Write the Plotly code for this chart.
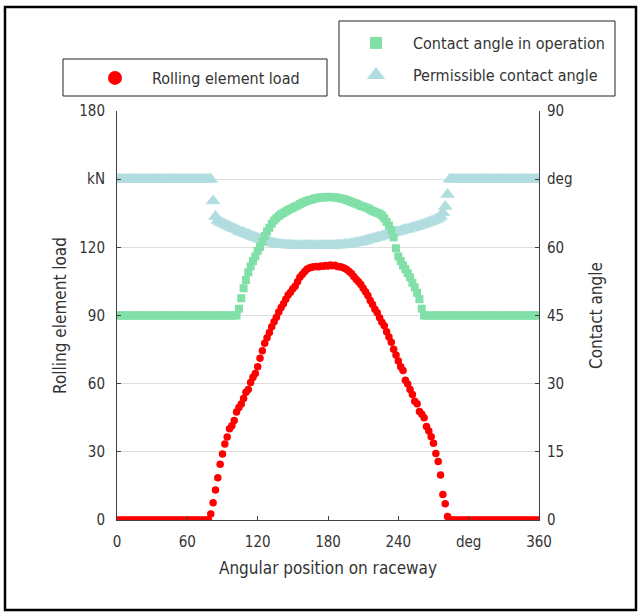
import plotly.graph_objects as go

# Angular position on the raceway, sampled every 2 degrees
position_deg = list(range(0, 361, 2))

# Rolling element load [kN]
rolling_load = [
    0, 0, 0, 0, 0, 0, 0, 0, 0, 0,
    0, 0, 0, 0, 0, 0, 0, 0, 0, 0,
    0, 0, 0, 0, 0, 0, 0, 0, 0, 0,
    0, 0, 0, 0, 0, 0, 0, 0, 0, 0,
    2.6, 7.6, 13.2, 18.6, 24.5, 29.0, 33.5, 36.5, 40.2, 41.5,
    43.8, 47.5, 49.5, 51.0, 53.5, 56.2, 57.4, 60.5, 62.8, 64.5,
    67.5, 71.2, 74.5, 77.8, 80.2, 82.5, 85.0, 87.3, 89.2, 91.5,
    93.5, 95.2, 97.2, 99.0, 100.2, 101.8, 102.9, 104.8, 106.8, 108.0,
    109.2, 110.4, 110.9, 111.2, 111.5, 111.6, 111.4, 111.8, 111.7, 112.0,
    111.8, 112.2, 111.9, 112.1, 111.6, 111.5, 111.2, 110.8, 110.2, 109.4,
    108.5, 107.2, 106.0, 104.8, 103.6, 102.0, 100.4, 98.8, 96.6, 94.8,
    92.8, 91.2, 89.0, 87.0, 85.5, 82.8, 80.5, 78.2, 75.2, 72.6,
    70.0, 67.5, 65.8, 61.5, 59.8, 57.4, 55.2, 52.3, 51.2, 47.8,
    46.5, 45.0, 41.2, 39.2, 36.6, 33.8, 29.3, 25.8, 19.8, 11.2,
    7.2, 1.5,
    0, 0, 0, 0, 0, 0, 0, 0, 0, 0,
    0, 0, 0, 0, 0, 0, 0, 0, 0, 0,
    0, 0, 0, 0, 0, 0, 0, 0, 0, 0,
    0, 0, 0, 0, 0, 0, 0, 0, 0,
]

# Contact angle in operation [deg]
contact_angle_op = [
    45, 45, 45, 45, 45, 45, 45, 45, 45, 45,
    45, 45, 45, 45, 45, 45, 45, 45, 45, 45,
    45, 45, 45, 45, 45, 45, 45, 45, 45, 45,
    45, 45, 45, 45, 45, 45, 45, 45, 45, 45,
    45, 45, 45, 45, 45, 45, 45, 45, 45, 45,
    45, 45,
    46.5, 48.8, 51.0, 52.8, 54.5, 55.8, 57.0, 58.0, 59.2, 60.1,
    61.3, 62.5, 63.5, 64.3, 65.2, 65.9, 66.4, 66.9, 67.3, 67.6,
    67.9, 68.2, 68.5, 68.7, 69.0, 69.2, 69.5, 69.8, 70.0, 70.2,
    70.4, 70.5, 70.7, 70.8, 70.9, 71.0, 71.0, 71.0, 71.1, 71.1,
    71.0, 71.0, 70.9, 70.8, 70.7, 70.6, 70.4, 70.2, 70.0, 69.8,
    69.6, 69.4, 69.1, 69.0, 68.8, 68.6, 68.3, 68.0, 67.8, 67.6,
    67.4, 67.0, 66.4, 65.6, 64.8, 63.8, 62.2, 59.8, 58.0, 57.0,
    56.0, 55.2, 54.3, 53.4, 52.2, 51.2, 50.0, 48.6, 46.5,
    45, 45, 45, 45, 45, 45, 45, 45, 45, 45,
    45, 45, 45, 45, 45, 45, 45, 45, 45, 45,
    45, 45, 45, 45, 45, 45, 45, 45, 45, 45,
    45, 45, 45, 45, 45, 45, 45, 45, 45, 45,
    45, 45, 45, 45, 45, 45, 45, 45, 45, 45,
]

# Permissible contact angle [deg]
contact_angle_perm = [
    75, 75, 75, 75, 75, 75, 75, 75, 75, 75,
    75, 75, 75, 75, 75, 75, 75, 75, 75, 75,
    75, 75, 75, 75, 75, 75, 75, 75, 75, 75,
    75, 75, 75, 75, 75, 75, 75, 75, 75, 75,
    75,
    70.2, 66.8, 65.9, 65.6, 65.3, 65.1, 64.8, 64.6, 64.3, 64.1,
    63.9, 63.6, 63.4, 63.2, 63.0, 62.8, 62.6, 62.4, 62.2, 62.0,
    61.8, 61.6, 61.4, 61.3, 61.1, 61.0, 60.9, 60.8, 60.7, 60.6,
    60.6, 60.5, 60.5, 60.5, 60.4, 60.4, 60.4, 60.4, 60.4, 60.4,
    60.4, 60.4, 60.4, 60.4, 60.4, 60.4, 60.4, 60.4, 60.4, 60.4,
    60.4, 60.4, 60.4, 60.5, 60.5, 60.5, 60.6, 60.6, 60.7, 60.8,
    60.9, 61.0, 61.1, 61.2, 61.3, 61.5, 61.6, 61.8, 61.9, 62.0,
    62.2, 62.3, 62.5, 62.6, 62.8, 62.9, 63.1, 63.2, 63.4, 63.5,
    63.6, 63.8, 63.9, 64.0, 64.2, 64.3, 64.5, 64.6, 64.8, 64.9,
    65.1, 65.3, 65.5, 65.7, 65.9, 66.1, 66.4, 66.8, 67.6, 69.0,
    71.6,
    75, 75, 75, 75, 75, 75, 75, 75, 75, 75,
    75, 75, 75, 75, 75, 75, 75, 75, 75, 75,
    75, 75, 75, 75, 75, 75, 75, 75, 75, 75,
    75, 75, 75, 75, 75, 75, 75, 75, 75,
]

# Axis ticks
x_tickvals = [0, 60, 120, 180, 240, 300, 360]
x_ticktext = ["0", "60", "120", "180", "240", "deg", "360"]
load_tickvals = [0, 30, 60, 90, 120, 150, 180]
load_ticktext = ["0", "30", "60", "90", "120", "kN", "180"]
angle_tickvals = [0, 15, 30, 45, 60, 75, 90]
angle_ticktext = ["0", "15", "30", "45", "60", "deg", "90"]

RED = "#ff0000"
GREEN = "#80e0a8"
CYAN = "#b2dde0"
AXIS = "#404040"
FONT = "DejaVu Sans Condensed, Liberation Sans, sans-serif"

W, H = 641, 612
ML, MR, MT, MB = 117, 102, 111, 92
PW, PH = W - ML - MR, H - MT - MB


def px(xp):
    return (xp - ML) / PW


def py(yp):
    return (H - MB - yp) / PH


fig = go.Figure()

fig.add_trace(go.Scatter(
    x=position_deg, y=contact_angle_perm, yaxis="y2", mode="markers",
    marker=dict(symbol="triangle-up", size=13, color=CYAN),
    showlegend=False, hoverinfo="skip",
))
fig.add_trace(go.Scatter(
    x=position_deg, y=contact_angle_op, yaxis="y2", mode="markers",
    marker=dict(symbol="square", size=8, color=GREEN),
    showlegend=False, hoverinfo="skip",
))
fig.add_trace(go.Scatter(
    x=position_deg, y=rolling_load, mode="markers",
    marker=dict(symbol="circle", size=7.5, color=RED),
    showlegend=False, hoverinfo="skip",
))

# Legend entries
fig.add_trace(go.Scatter(
    x=[None], y=[None], mode="markers", name="Rolling element load",
    marker=dict(symbol="circle", size=14, color=RED), legend="legend",
))
fig.add_trace(go.Scatter(
    x=[None], y=[None], mode="markers", name="Contact angle in operation",
    marker=dict(symbol="square", size=12, color=GREEN), legend="legend2",
))
fig.add_trace(go.Scatter(
    x=[None], y=[None], mode="markers", name="Permissible contact angle",
    marker=dict(symbol="triangle-up", size=16, color=CYAN), legend="legend3",
))

legend_style = dict(
    bgcolor="rgba(0,0,0,0)", borderwidth=0, itemwidth=64,
    font=dict(family=FONT, size=16, color="#333333"),
    xanchor="left", yanchor="middle",
)

axis_common = dict(
    showline=True, linecolor=AXIS, linewidth=1,
    ticks="inside", ticklen=4, tickcolor=AXIS, tickwidth=1,
    tickfont=dict(family=FONT, size=15, color="#333333"),
    title_font=dict(family=FONT, size=17, color="#333333"),
    zeroline=False,
)

fig.update_layout(
    width=W, height=H,
    margin=dict(l=ML, r=MR, t=MT, b=MB),
    paper_bgcolor="white", plot_bgcolor="white",
    xaxis=dict(
        range=[0, 360], tickvals=x_tickvals, ticktext=x_ticktext,
        showgrid=False, title=dict(text="Angular position on raceway", standoff=12),
        ticklabelstandoff=8, **axis_common,
    ),
    yaxis=dict(
        range=[0, 180], tickvals=load_tickvals, ticktext=load_ticktext,
        showgrid=True, gridcolor="#dedede", gridwidth=1,
        title=dict(text="Rolling element load", standoff=8),
        ticklabelstandoff=8, **axis_common,
    ),
    yaxis2=dict(
        range=[0, 90], tickvals=angle_tickvals, ticktext=angle_ticktext,
        overlaying="y", side="right", showgrid=False,
        title=dict(text="Contact angle", standoff=18),
        ticklabelstandoff=4, **axis_common,
    ),
    legend=dict(x=px(78), y=py(78), **legend_style),
    legend2=dict(x=px(339), y=py(43), **legend_style),
    legend3=dict(x=px(339), y=py(75), **legend_style),
    shapes=[
        dict(type="rect", xref="paper", yref="paper",
             x0=px(63), x1=px(327), y0=py(96), y1=py(59),
             line=dict(color="#222222", width=1)),
        dict(type="rect", xref="paper", yref="paper",
             x0=px(339), x1=px(615), y0=py(96), y1=py(21),
             line=dict(color="#222222", width=1)),
        dict(type="rect", xref="paper", yref="paper",
             x0=px(5), x1=px(636), y0=py(610), y1=py(7),
             line=dict(color="black", width=2.5)),
    ],
)

fig.write_html("out.html")
